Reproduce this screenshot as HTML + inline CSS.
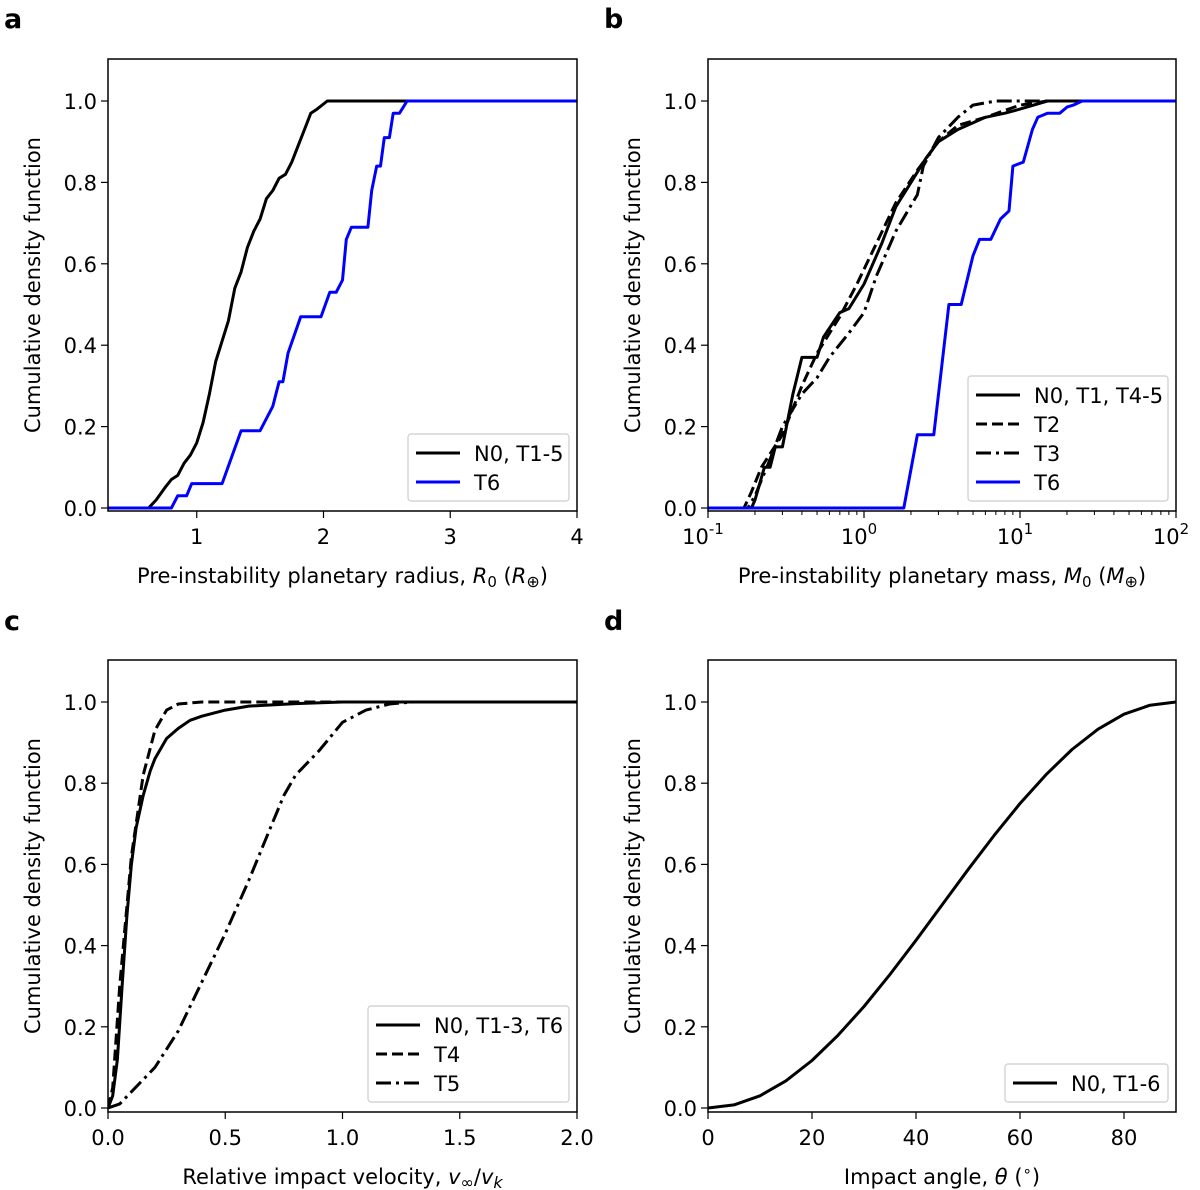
<!DOCTYPE html>
<html><head><meta charset="utf-8"><style>
html,body{margin:0;padding:0;background:#fff;}
svg{display:block;font-family:"DejaVu Sans","Liberation Sans",sans-serif;}
</style></head><body>
<svg id="fig" width="1200" height="1190" viewBox="0 0 1200 1190" xmlns="http://www.w3.org/2000/svg"></svg>
<script>
// Panel a data
const aBlackX=[0.3,0.62,0.68,0.75,0.8,0.85,0.9,0.95,1.0,1.05,1.1,1.15,1.2,1.25,1.3,1.35,1.4,1.45,1.5,1.55,1.6,1.65,1.7,1.75,1.8,1.85,1.9,1.95,2.03,4];
const aBlackY=[0,0,0.02,0.05,0.07,0.08,0.11,0.13,0.16,0.21,0.28,0.36,0.41,0.46,0.54,0.58,0.64,0.68,0.71,0.76,0.78,0.81,0.82,0.85,0.89,0.93,0.97,0.98,1.0,1];
const aBlueX=[0.3,0.8,0.85,0.92,0.96,1.2,1.35,1.5,1.6,1.65,1.68,1.72,1.82,1.98,2.05,2.1,2.15,2.18,2.22,2.35,2.38,2.42,2.45,2.48,2.52,2.55,2.6,2.66,4];
const aBlueY=[0,0,0.03,0.03,0.06,0.06,0.19,0.19,0.25,0.31,0.31,0.38,0.47,0.47,0.53,0.53,0.56,0.66,0.69,0.69,0.78,0.84,0.84,0.91,0.91,0.97,0.97,1.0,1];
const aXTicks=[1,2,3,4];
// Panel b data
const bSolidX=[0.1,0.19,0.2,0.23,0.25,0.27,0.3,0.35,0.4,0.5,0.55,0.7,0.8,1,1.3,1.6,2,2.5,3,4,6,8,10,15,100];
const bSolidY=[0,0,0.02,0.1,0.1,0.15,0.15,0.28,0.37,0.37,0.42,0.48,0.49,0.55,0.65,0.74,0.8,0.86,0.9,0.93,0.96,0.97,0.98,1.0,1];
const bDashX=[0.1,0.17,0.19,0.22,0.3,0.4,0.5,0.7,0.9,1.2,1.6,2.2,3,4,6,10,15,100];
const bDashY=[0,0,0.04,0.1,0.18,0.3,0.38,0.47,0.55,0.65,0.75,0.83,0.9,0.94,0.96,0.99,1,1];
const bDashDotX=[0.1,0.18,0.2,0.25,0.3,0.4,0.5,0.6,0.8,1,1.2,1.6,2.2,2.4,3,4,5,7,100];
const bDashDotY=[0,0,0.03,0.12,0.2,0.28,0.32,0.37,0.43,0.48,0.57,0.68,0.77,0.84,0.91,0.96,0.99,1,1];
const bBlueX=[0.1,1.8,2.2,2.8,3.5,4.2,5,5.5,6.5,7.5,8.5,9,10.5,12,13,15,18,20,22,25,100];
const bBlueY=[0,0,0.18,0.18,0.5,0.5,0.62,0.66,0.66,0.71,0.73,0.84,0.85,0.93,0.96,0.97,0.97,0.985,0.99,1,1];
// Panel c data
const cSolidX=[0,0.02,0.04,0.06,0.08,0.1,0.12,0.15,0.18,0.2,0.25,0.3,0.35,0.4,0.5,0.6,0.8,1.0,2];
const cSolidY=[0,0.03,0.12,0.3,0.47,0.6,0.69,0.77,0.83,0.86,0.91,0.935,0.955,0.965,0.98,0.99,0.996,1,1];
const cDashX=[0,0.02,0.05,0.1,0.15,0.2,0.25,0.3,0.4,2];
const cDashY=[0,0.05,0.3,0.62,0.82,0.93,0.98,0.995,1,1];
const cDashDotX=[0,0.05,0.1,0.2,0.3,0.4,0.5,0.6,0.7,0.75,0.8,0.9,1.0,1.1,1.2,1.3,2];
const cDashDotY=[0,0.01,0.04,0.1,0.19,0.31,0.43,0.56,0.7,0.77,0.82,0.88,0.95,0.98,0.995,1,1];
const cXTicks=[0,0.5,1.0,1.5,2.0];
const cXTickLabels=["0.0","0.5","1.0","1.5","2.0"];
// Panel d data
const dAngle=[0,5,10,15,20,25,30,35,40,45,50,55,60,65,70,75,80,85,90];
const dCdf=[0,0.0076,0.030,0.067,0.117,0.179,0.25,0.329,0.413,0.5,0.587,0.671,0.75,0.821,0.883,0.933,0.970,0.992,1];
const dXTicks=[0,20,40,60,80];
const yTicks=[0,0.2,0.4,0.6,0.8,1.0];
const yTickLabels=["0.0","0.2","0.4","0.6","0.8","1.0"];

const NS="http://www.w3.org/2000/svg";
const fig=document.getElementById('fig');
function mk(tag,attrs,parent,text){const e=document.createElementNS(NS,tag);for(const k in attrs)e.setAttribute(k,attrs[k]);if(text!==undefined)e.textContent=text;(parent||fig).appendChild(e);return e;}

function panel(o){
  const g=mk('g',{});
  
  
  const L=o.L,R=o.R,T=o.T,B=o.B;
  const y0=o.y0,y1=o.y1;
  const sy=v=>y0+(y1-y0)*v;
  const sx=o.log?(v=>L+(Math.log10(v)-Math.log10(o.xmin))/(Math.log10(o.xmax)-Math.log10(o.xmin))*(R-L)):(v=>L+(v-o.xmin)/(o.xmax-o.xmin)*(R-L));
  const lt=mk('text',{x:o.lx,y:o.ly,'font-size':27,'font-weight':'bold',fill:'#000'},g,o.id);
  
  
  const clip=mk('clipPath',{id:'clip'+o.id},g);mk('rect',{x:L,y:T,width:R-L,height:B-T},clip);
  const sg=mk('g',{'clip-path':'url(#clip'+o.id+')'},g);
  o.series.forEach(s=>{
    const pts=s.x.map((v,i)=>sx(v).toFixed(1)+','+sy(s.y[i]).toFixed(1)).join(' ');
    const p=mk('polyline',{points:pts,fill:'none',stroke:s.color,'stroke-width':3,'stroke-linejoin':'round','stroke-dasharray':s.dash||'none'},sg);
    
    
  });
  const fr=mk('rect',{x:L,y:T,width:R-L,height:B-T,fill:'none',stroke:'#000','stroke-width':1.5},g);
  
  
  yTicks.forEach((v,i)=>{
    const y=sy(v);
    mk('line',{x1:L-7,x2:L,y1:y,y2:y,stroke:'#000','stroke-width':1.2},g);
    const t=mk('text',{x:L-11,y:y+8,'font-size':21,'text-anchor':'end'},g,yTickLabels[i]);
    
    
  });
  o.xt.forEach((v,i)=>{
    const x=sx(v);
    mk('line',{x1:x,x2:x,y1:B,y2:B+7,stroke:'#000','stroke-width':1.2},g);
    let t;
    if(o.log){
      t=mk('text',{x:x-5,y:B+33,'font-size':21,'text-anchor':'middle'},g,'10');
      mk('tspan',{dy:-10,'font-size':15},t,String(Math.round(Math.log10(v))));
    } else t=mk('text',{x:x,y:B+33,'font-size':21,'text-anchor':'middle'},g,o.xl[i]);
    
    
  });
  if(o.log){
    for(let d=-1;d<2;d++)for(let k=2;k<10;k++){const x=sx(k*Math.pow(10,d));mk('line',{x1:x,x2:x,y1:B,y2:B+4,stroke:'#000','stroke-width':1},g);}
  }
  const yl=mk('text',{x:0,y:0,'font-size':21,'text-anchor':'middle',transform:'translate('+(L-68)+','+((T+B)/2)+') rotate(-90)'},g,'Cumulative density function');
  
  
  const xl=mk('text',{x:(L+R)/2,y:B+72,'font-size':21,'text-anchor':'middle'},g);
  xl.innerHTML=o.xlabel;
  
  
  const lg=mk('g',{},g);
  
  
  const lh=o.series.length*29+9;
  mk('rect',{x:o.legX,y:B-10-lh,width:R-8-o.legX,height:lh,rx:3,fill:'#fff','fill-opacity':0.8,stroke:'#ccc','stroke-width':1.2},lg);
  o.series.forEach((s,i)=>{
    const y=B-10-lh+19+i*29;
    const en=mk('g',{},lg);
    
    
    mk('line',{x1:o.legX+8,x2:o.legX+52,y1:y,y2:y,stroke:s.color,'stroke-width':3,'stroke-dasharray':s.dash||'none'},en);
    mk('text',{x:o.legX+66,y:y+8,'font-size':21},en,s.label);
  });
}

const row1={T:59,B:511,y0:508,y1:101};
const row2={T:660,B:1112,y0:1108,y1:702};
panel(Object.assign({id:'a',L:108,R:577,lx:4,ly:28,xmin:0.3,xmax:4,xt:aXTicks,xl:["1","2","3","4"],legX:408,
 xlabel:'Pre-instability planetary radius, <tspan font-style="italic">R</tspan><tspan font-size="15" dy="4">0</tspan><tspan dy="-4"> (</tspan><tspan font-style="italic">R</tspan><tspan font-size="16" dy="4">⊕</tspan><tspan dy="-4">)</tspan>',
 series:[{name:'n0-t1-5',label:'N0, T1-5',x:aBlackX,y:aBlackY,color:'#000'},{name:'t6',label:'T6',x:aBlueX,y:aBlueY,color:'#0000ff'}]},row1));
panel(Object.assign({id:'b',L:708,R:1176,lx:604,ly:28,log:true,xmin:0.1,xmax:100,xt:[0.1,1,10,100],legX:968,
 xlabel:'Pre-instability planetary mass, <tspan font-style="italic">M</tspan><tspan font-size="15" dy="4">0</tspan><tspan dy="-4"> (</tspan><tspan font-style="italic">M</tspan><tspan font-size="16" dy="4">⊕</tspan><tspan dy="-4">)</tspan>',
 series:[{name:'n0-t1-t4-5',label:'N0, T1, T4-5',x:bSolidX,y:bSolidY,color:'#000'},{name:'t2',label:'T2',x:bDashX,y:bDashY,color:'#000',dash:'11 5'},{name:'t3',label:'T3',x:bDashDotX,y:bDashDotY,color:'#000',dash:'15 5 3 5'},{name:'t6',label:'T6',x:bBlueX,y:bBlueY,color:'#0000ff'}]},row1));
panel(Object.assign({id:'c',L:108,R:577,lx:4,ly:630,xmin:0,xmax:2,xt:cXTicks,xl:cXTickLabels,legX:368,
 xlabel:'Relative impact velocity, <tspan font-style="italic">v</tspan><tspan font-size="16" dy="4">∞</tspan><tspan dy="-4">/</tspan><tspan font-style="italic">v</tspan><tspan font-size="16" dy="4" font-style="italic">k</tspan>',
 series:[{name:'n0-t1-3-t6',label:'N0, T1-3, T6',x:cSolidX,y:cSolidY,color:'#000'},{name:'t4',label:'T4',x:cDashX,y:cDashY,color:'#000',dash:'11 5'},{name:'t5',label:'T5',x:cDashDotX,y:cDashDotY,color:'#000',dash:'15 5 3 5'}]},row2));
panel(Object.assign({id:'d',L:708,R:1176,lx:604,ly:630,xmin:0,xmax:90,xt:dXTicks,xl:["0","20","40","60","80"],legX:1005,
 xlabel:'Impact angle, <tspan font-style="italic">θ</tspan> (<tspan font-size="15" dy="-8">∘</tspan><tspan dy="8">)</tspan>',
 series:[{name:'n0-t1-6',label:'N0, T1-6',x:dAngle,y:dCdf,color:'#000'}]},row2));
</script>
</body></html>
